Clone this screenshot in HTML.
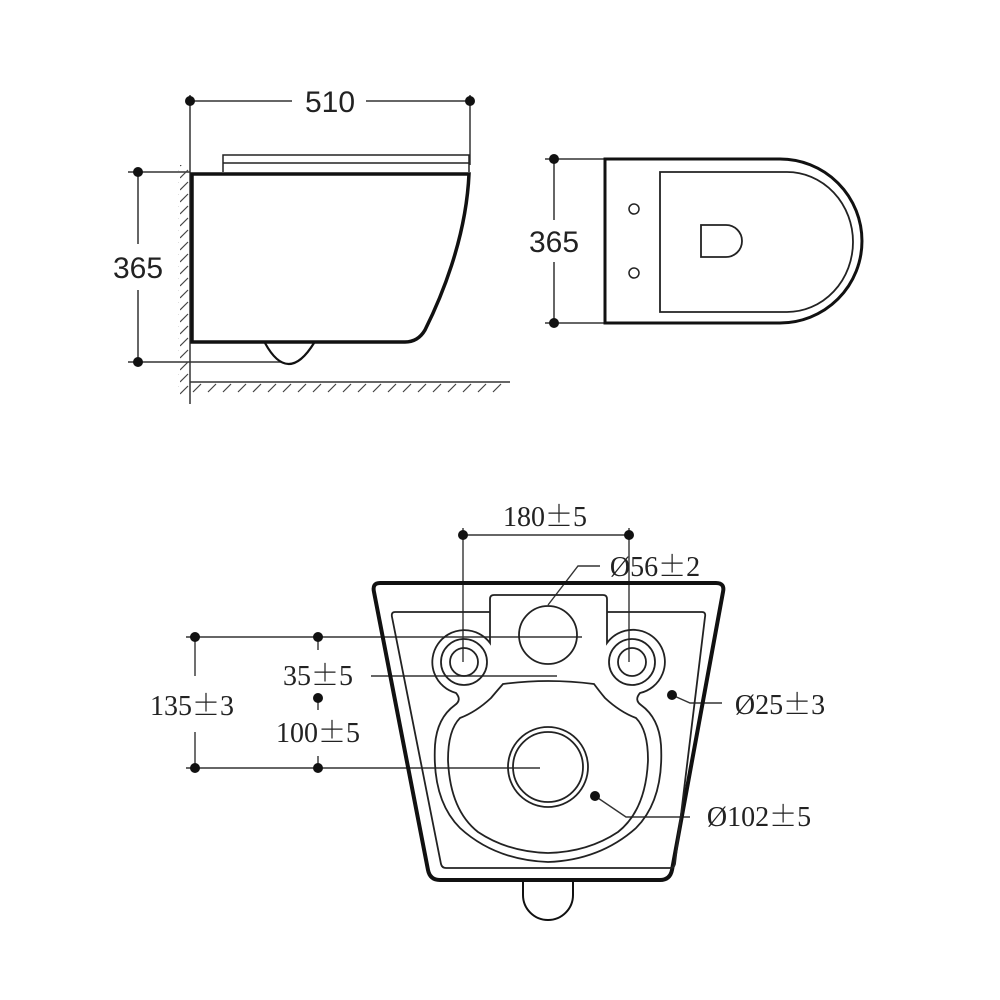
<!DOCTYPE html>
<html><head><style>
html,body{margin:0;padding:0;background:#fff;}
svg{display:block;}
text{font-family:"Liberation Serif",serif;fill:#222;}
.s{font-family:"Liberation Sans",sans-serif;}
.pm{font-family:"Noto Serif CJK SC","Liberation Serif",serif;}
</style></head><body>
<svg width="1000" height="1000" viewBox="0 0 1000 1000" xmlns="http://www.w3.org/2000/svg">
<defs>
<pattern id="hv" width="10" height="12" patternUnits="userSpaceOnUse">
<line x1="0" y1="10" x2="8" y2="2" stroke="#444" stroke-width="1.2"/>
</pattern>
</defs>
<g fill="none" stroke="#333" stroke-width="1.5">
<line x1="190" y1="95" x2="190" y2="404"/>
<line x1="470" y1="95" x2="470" y2="165"/>
<line x1="190" y1="101" x2="292" y2="101"/>
<line x1="366" y1="101" x2="470" y2="101"/>
<line x1="128" y1="172" x2="190" y2="172"/>
<line x1="128" y1="362" x2="282" y2="362"/>
<line x1="138" y1="172" x2="138" y2="244"/>
<line x1="138" y1="290" x2="138" y2="362"/>
<line x1="190" y1="382" x2="510" y2="382"/>
</g>
<rect x="178" y="165" width="11" height="230" fill="url(#hv)"/>
<g stroke="#444" stroke-width="1.2">
<line x1="193" y1="392" x2="201" y2="384"/><line x1="208" y1="392" x2="216" y2="384"/><line x1="223" y1="392" x2="231" y2="384"/><line x1="238" y1="392" x2="246" y2="384"/><line x1="253" y1="392" x2="261" y2="384"/><line x1="268" y1="392" x2="276" y2="384"/><line x1="283" y1="392" x2="291" y2="384"/><line x1="298" y1="392" x2="306" y2="384"/><line x1="313" y1="392" x2="321" y2="384"/><line x1="328" y1="392" x2="336" y2="384"/><line x1="343" y1="392" x2="351" y2="384"/><line x1="358" y1="392" x2="366" y2="384"/><line x1="373" y1="392" x2="381" y2="384"/><line x1="388" y1="392" x2="396" y2="384"/><line x1="403" y1="392" x2="411" y2="384"/><line x1="418" y1="392" x2="426" y2="384"/><line x1="433" y1="392" x2="441" y2="384"/><line x1="448" y1="392" x2="456" y2="384"/><line x1="463" y1="392" x2="471" y2="384"/><line x1="478" y1="392" x2="486" y2="384"/><line x1="493" y1="392" x2="501" y2="384"/>
</g>
<g fill="#111">
<circle cx="190" cy="101" r="5"/><circle cx="470" cy="101" r="5"/>
<circle cx="138" cy="172" r="5"/><circle cx="138" cy="362" r="5"/>
</g>
<text class="s" x="330" y="112" font-size="30" text-anchor="middle">510</text>
<text class="s" x="138" y="278" font-size="30" text-anchor="middle">365</text>
<g fill="none" stroke="#222" stroke-width="1.5">
<path d="M223 172 V155 H469 V172"/><line x1="223" y1="163" x2="469" y2="163"/>
</g>
<path d="M192 174 H469 C466 240 440 300 425 330 Q418 342 405 342 H192 Z" fill="none" stroke="#111" stroke-width="3.5"/>
<path d="M265 343 Q288 385 314 343" fill="none" stroke="#111" stroke-width="2.2"/>
<!-- top view -->
<g fill="none" stroke="#333" stroke-width="1.5">
<line x1="545" y1="159" x2="605" y2="159"/><line x1="545" y1="323" x2="605" y2="323"/>
<line x1="554" y1="159" x2="554" y2="220"/><line x1="554" y1="262" x2="554" y2="323"/>
</g>
<circle cx="554" cy="159" r="5" fill="#111"/><circle cx="554" cy="323" r="5" fill="#111"/>
<text class="s" x="554" y="252" font-size="30" text-anchor="middle">365</text>
<path d="M605 159 H780 A82 82 0 0 1 780 323 H605 Z" fill="none" stroke="#111" stroke-width="3"/>
<path d="M660 172 H787 A66 70 0 0 1 787 312 H660 Z" fill="none" stroke="#222" stroke-width="1.8"/>
<circle cx="634" cy="209" r="5" fill="none" stroke="#222" stroke-width="1.5"/>
<circle cx="634" cy="273" r="5" fill="none" stroke="#222" stroke-width="1.5"/>
<path d="M701 225 H726 A16 16 0 0 1 726 257 H701 Z" fill="none" stroke="#222" stroke-width="1.8"/>
<!-- bottom view dims -->
<g fill="none" stroke="#333" stroke-width="1.4">
<line x1="463" y1="535" x2="629" y2="535"/>
<line x1="463" y1="528" x2="463" y2="662"/><line x1="629" y1="528" x2="629" y2="662"/>
<line x1="186" y1="637" x2="582" y2="637"/>
<line x1="371" y1="676" x2="557" y2="676"/>
<line x1="186" y1="768" x2="540" y2="768"/>
<line x1="195" y1="637" x2="195" y2="676"/><line x1="195" y1="732" x2="195" y2="768"/>
<line x1="318" y1="637" x2="318" y2="650"/><line x1="318" y1="698" x2="318" y2="710"/><line x1="318" y1="756" x2="318" y2="768"/>
<path d="M548 605 L578 566 H600"/>
<path d="M672 695 L690 703 H722"/>
<path d="M595 796 L626 817 H690"/>
</g>
<g fill="#111">
<circle cx="463" cy="535" r="5"/><circle cx="629" cy="535" r="5"/>
<circle cx="195" cy="637" r="5"/><circle cx="318" cy="637" r="5"/><circle cx="318" cy="698" r="5"/>
<circle cx="195" cy="768" r="5"/><circle cx="318" cy="768" r="5"/>
<circle cx="672" cy="695" r="5"/><circle cx="595" cy="796" r="5"/>
</g>
<text x="545" y="526" font-size="28" text-anchor="middle">180<tspan class="pm">±</tspan>5</text>
<text x="655" y="576" font-size="28" text-anchor="middle">Ø56<tspan class="pm">±</tspan>2</text>
<text x="318" y="685" font-size="28" text-anchor="middle">35<tspan class="pm">±</tspan>5</text>
<text x="192" y="715" font-size="28" text-anchor="middle">135<tspan class="pm">±</tspan>3</text>
<text x="318" y="742" font-size="28" text-anchor="middle">100<tspan class="pm">±</tspan>5</text>
<text x="780" y="714" font-size="28" text-anchor="middle">Ø25<tspan class="pm">±</tspan>3</text>
<text x="759" y="826" font-size="28" text-anchor="middle">Ø102<tspan class="pm">±</tspan>5</text>
<!-- bottom view body -->
<path d="M380 583 H716 Q725 583 723 592 L672 870 Q670 880 660 880 H440 Q430 880 428 870 L374 592 Q372 583 380 583 Z" fill="none" stroke="#111" stroke-width="4"/>
<path d="M395 612 H490 M607 612 H702 Q706 612 705 617 L675 864 Q674 868 670 868 H446 Q442 868 441 864 L392 617 Q391 612 395 612" fill="none" stroke="#222" stroke-width="1.8"/>
<path d="M490 612 V599 Q490 595 494 595 H603 Q607 595 607 599 V612" fill="none" stroke="#222" stroke-width="1.8"/>
<circle cx="548" cy="635" r="29" fill="none" stroke="#222" stroke-width="1.8"/>
<g fill="none" stroke="#222" stroke-width="1.8">
<circle cx="464" cy="662" r="23"/><circle cx="464" cy="662" r="14"/>
<circle cx="632" cy="662" r="23"/><circle cx="632" cy="662" r="14"/>
<circle cx="548" cy="767" r="40"/><circle cx="548" cy="767" r="35"/>
<path d="M490 612 V643 A32 32 0 1 0 456 693 Q462 700 455 705 Q437 718 435 745 Q432 800 460 828 Q495 860 548 862 Q600 860 636 828 Q664 800 661 745 Q659 718 641 705 Q634 700 640 693 A32 32 0 1 0 607 643 V612"/>
<path d="M503 684 Q548 678 594 684 Q600 692 605 698 Q620 712 636 718 Q648 730 648 760 Q646 810 618 832 Q588 852 548 853 Q508 852 478 832 Q450 810 448 760 Q448 730 460 718 Q476 712 491 698 Q496 692 503 684 Z"/>
</g>
<path d="M523 881 V895 A25 25 0 0 0 573 895 V881" fill="none" stroke="#111" stroke-width="2"/>
</svg>
</body></html>
